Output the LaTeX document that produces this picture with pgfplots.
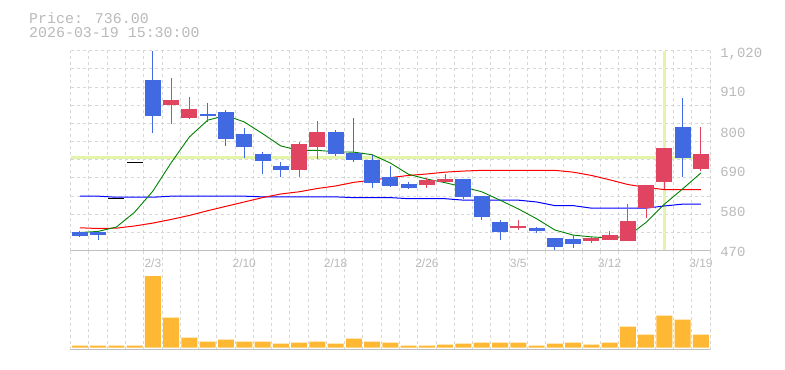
\documentclass[border=0pt]{standalone}
\usepackage{fontspec}
\setmainfont{Liberation Sans}
\newfontfamily\monofont{Liberation Mono}
\usepackage{pgfplots}
\pgfplotsset{compat=1.18}
\definecolor{gridc}{RGB}{215,215,215}
\definecolor{axisc}{RGB}{192,192,192}
\definecolor{labc}{RGB}{185,185,185}
\definecolor{hlc}{RGB}{226,245,168}
\definecolor{blueC}{RGB}{65,105,225}
\definecolor{redC}{RGB}{224,68,96}
\definecolor{volc}{RGB}{255,184,51}
\definecolor{maG}{RGB}{0,128,0}
\definecolor{maR}{RGB}{255,0,0}
\definecolor{maB}{RGB}{0,0,255}
\begin{document}
\begin{tikzpicture}
\useasboundingbox (0,0) rectangle (785bp,370bp);
\node[anchor=base west, inner sep=0pt, text=labc, font=\monofont\fontsize{15}{15}\selectfont] at (29bp,346.7bp) {Price: 736.00};
\node[anchor=base west, inner sep=0pt, text=labc, font=\monofont\fontsize{15}{15}\selectfont] at (29bp,332.7bp) {2026-03-19 15:30:00};
% price panel
\begin{axis}[
  at={(70.7bp,119.3bp)}, anchor=south west,
  scale only axis, width=639.4bp, height=200bp,
  xmin=-0.5, xmax=34.5, ymin=470, ymax=1020,
  axis line style={draw=none},
  xtick={4,9,14,19,24,29,34},
  xticklabels={2/3,2/10,2/18,2/26,3/5,3/12,3/19},
  minor xtick={-0.5,0.5,...,34.5},
  ytick={470,580,690,800,910,1020},
  yticklabels={470,580,690,800,910,{1,020}},
  minor ytick={470,520,...,1020},
  xminorgrids, yminorgrids,
  minor grid style={gridc, dash pattern=on 3bp off 3bp, line width=1bp},
  major tick length=0pt, minor tick length=0pt,
  yticklabel pos=right,
  yticklabel style={font=\monofont\fontsize{14}{14}\selectfont, text=labc, anchor=base west, inner sep=0pt, xshift=10bp, yshift=-6.3bp},
  xticklabel style={font=\fontsize{12}{12}\selectfont, text=labc, anchor=base, inner sep=0pt, yshift=-17bp},
  unbounded coords=jump,
  clip=true,
]
% crosshair highlight
\addplot[hlc, line width=3.5bp, forget plot] coordinates {(-0.5,726) (34.5,726)};
\addplot[hlc, line width=3bp, forget plot] coordinates {(32,472) (32,1020)};
% moving averages
\addplot[maB, line width=1bp] coordinates {
(0,620) (1,620) (2,617) (3,617) (4,617) (5,620) (6,620) (7,620) (8,620) (9,620)
(10,618) (11,618) (12,618) (13,618) (14,618) (15,616) (16,616) (17,616) (18,613) (19,613)
(20,613) (21,609) (22,609) (23,609) (24,609) (25,604) (26,594) (27,594) (28,587) (29,587)
(30,587) (31,587) (32,593) (33,598) (34,598)};
\addplot[maR, line width=1bp] coordinates {
(0,533) (1,531) (2,532) (3,538) (4,546) (5,556) (6,567) (7,580) (8,592) (9,604)
(10,616) (11,626) (12,632) (13,641) (14,648) (15,658) (16,664) (17,671) (18,677) (19,681)
(20,686) (21,689) (22,691) (23,691) (24,691) (25,691) (26,691) (27,686) (28,677) (29,665)
(30,652) (31,644) (32,638) (33,638) (34,638)};
\addplot[maG, line width=0.9bp] coordinates {
(0,520) (1,523) (2,535) (3,576) (4,634) (5,712) (6,783) (7,829) (8,842) (9,824)
(10,792) (11,758) (12,746) (13,746) (14,742) (15,741) (16,734) (17,711) (18,680) (19,667)
(20,657) (21,645) (22,632) (23,609) (24,585) (25,558) (26,527) (27,513) (28,508) (29,505)
(30,510) (31,548) (32,598) (33,640) (34,684)};
% flat days
\addplot[black, line width=1.5bp] coordinates {
(1.562,614) (2.438,614) (2.5,nan) (2.562,713) (3.438,713)};
% wicks
\addplot[redC, line width=1bp] coordinates {
(5,818) (5,946) (5,nan) (6,832) (6,893) (6,nan) (12,674) (12,770) (12,nan)
(13,723) (13,827) (13,nan) (19,643) (19,669) (19,nan) (20,655) (20,682) (20,nan)
(24,527) (24,554) (24,nan) (28,491) (28,508) (28,nan) (29,499) (29,524) (29,nan)
(30,497) (30,598) (30,nan) (31,560) (31,651) (31,nan) (32,640) (32,752) (32,nan)
(34,690) (34,810)};
\addplot[blueC, line width=1bp] coordinates {
(0,508) (0,523) (0,nan) (1,499) (1,522) (1,nan) (4,795) (4,1020) (4,nan)
(7,823) (7,877) (7,nan) (8,758) (8,858) (8,nan) (9,725) (9,808) (9,nan)
(10,681) (10,742) (10,nan) (11,674) (11,714) (11,nan) (14,730) (14,802) (14,nan)
(15,714) (15,835) (15,nan) (16,643) (16,733) (16,nan) (17,646) (17,703) (17,nan)
(18,640) (18,659) (18,nan) (21,613) (21,667) (21,nan) (22,554) (22,621) (22,nan)
(23,499) (23,554) (23,nan) (25,519) (25,535) (25,nan) (26,470) (26,505) (26,nan)
(27,477) (27,513) (27,nan) (33,674) (33,890)};
% bodies
\addplot[redC, line width=16bp] coordinates {
(5,871) (5,884) (5,nan) (6,836) (6,860) (6,nan) (12,692) (12,763) (12,nan)
(13,755) (13,797) (13,nan) (19,651) (19,664) (19,nan) (20,660) (20,667) (20,nan)
(24,532) (24,538) (24,nan) (28,497) (28,505) (28,nan) (29,499) (29,513) (29,nan)
(30,497) (30,552) (30,nan) (31,587) (31,651) (31,nan) (32,659) (32,752) (32,nan)
(34,695) (34,736)};
\addplot[blueC, line width=16bp] coordinates {
(0,511) (0,522) (0,nan) (1,513) (1,522) (1,nan) (4,840) (4,939) (4,nan)
(7,841) (7,846) (7,nan) (8,777) (8,852) (8,nan) (9,755) (9,791) (9,nan)
(10,717) (10,736) (10,nan) (11,693) (11,703) (11,nan) (14,736) (14,797) (14,nan)
(15,719) (15,739) (15,nan) (16,657) (16,719) (16,nan) (17,649) (17,674) (17,nan)
(18,643) (18,653) (18,nan) (21,618) (21,667) (21,nan) (22,563) (22,621) (22,nan)
(23,521) (23,549) (23,nan) (25,524) (25,532) (25,nan) (26,481) (26,505) (26,nan)
(27,488) (27,502) (27,nan) (33,725) (33,810)};
\draw[axisc, line width=1.2bp] (rel axis cs:0,0) -- (rel axis cs:1,0) -- (rel axis cs:1,1);
\end{axis}
% volume panel
\begin{axis}[
  at={(70.7bp,20bp)}, anchor=south west,
  scale only axis, width=639.4bp, height=99.3bp,
  xmin=-0.5, xmax=34.5, ymin=-2.5, ymax=96.8,
  axis line style={draw=none},
  xtick={-0.5,0.5,...,34.5}, xticklabels={},
  ytick=\empty,
  xmajorgrids,
  major grid style={gridc, dash pattern=on 3bp off 3bp, line width=1bp},
  major tick length=0pt, minor tick length=0pt,
  ybar, bar width=16bp, bar shift=0pt,
]
\addplot[fill=volc, draw=none] coordinates {
(0,2) (1,2) (2,2) (3,2) (4,71.3) (5,30) (6,10) (7,6) (8,8) (9,6)
(10,6) (11,4) (12,5) (13,6) (14,4) (15,9) (16,6) (17,5) (18,2) (19,2)
(20,3) (21,4) (22,5) (23,5) (24,5) (25,2) (26,4) (27,5) (28,3) (29,5)
(30,21) (31,13) (32,32) (33,28) (34,13)};
\draw[axisc, line width=1.2bp] (rel axis cs:0,0) -- (rel axis cs:1,0) -- (rel axis cs:1,1);
\end{axis}
\end{tikzpicture}
\end{document}
